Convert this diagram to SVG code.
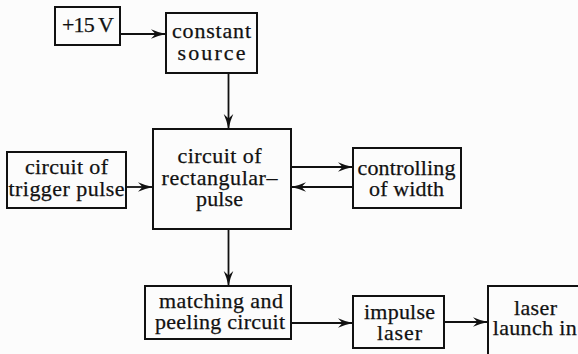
<svg xmlns="http://www.w3.org/2000/svg" width="578" height="354" viewBox="0 0 578 354">
  <style>
    .box { fill: none; stroke: #111; stroke-width: 2; }
    .lbl { font-family: "Liberation Serif", "DejaVu Serif", "Times New Roman", serif; font-size: 22px; fill: #111; stroke: #111; stroke-width: 0.25; text-anchor: middle; }
    .wire { fill: none; stroke: #111; stroke-width: 1.8; marker-end: url(#head); }
  </style>
  <defs>
    <!-- barbed arrowhead, tip at the end of the wire -->
    <marker id="head" markerUnits="userSpaceOnUse" markerWidth="20" markerHeight="12" viewBox="-16 -6 17 12" refX="0" refY="0" orient="auto">
      <path d="M0,0 Q-8,-1.6 -15,-4.8 L-10.5,0 L-15,4.8 Q-8,1.6 0,0 Z" fill="#111"/>
    </marker>
  </defs>
  <rect width="578" height="354" fill="#fcfcfc"/>

  <g id="connectors">
    <line class="wire" x1="120" y1="34" x2="166" y2="34"/>
    <line class="wire" x1="228.5" y1="73" x2="228.5" y2="129"/>
    <line class="wire" x1="126" y1="187" x2="153" y2="187"/>
    <line class="wire" x1="291" y1="167" x2="353" y2="167"/>
    <line class="wire" x1="353" y1="187" x2="291" y2="187"/>
    <line class="wire" x1="228.5" y1="229" x2="228.5" y2="286"/>
    <line class="wire" x1="291" y1="323" x2="353" y2="323"/>
    <line class="wire" x1="444" y1="322" x2="488" y2="322"/>
  </g>

  <g id="supply">
    <rect class="box" x="55" y="7" width="65" height="38"/>
    <text class="lbl" x="88" y="32" textLength="52">+15 V</text>
  </g>

  <g id="constant-source">
    <rect class="box" x="166" y="13" width="91" height="60"/>
    <text class="lbl" x="211.5" y="38" textLength="79">constant</text>
    <text class="lbl" x="211.5" y="60" textLength="68">source</text>
  </g>

  <g id="trigger-pulse">
    <rect class="box" x="7" y="152" width="119" height="56"/>
    <text class="lbl" x="66.5" y="174" textLength="83">circuit of</text>
    <text class="lbl" x="66.5" y="196" textLength="116">trigger pulse</text>
  </g>

  <g id="rectangular-pulse">
    <rect class="box" x="153" y="129" width="138" height="100"/>
    <text class="lbl" x="219.5" y="163" textLength="84">circuit of</text>
    <text class="lbl" x="219.5" y="184.5" textLength="116">rectangular–</text>
    <text class="lbl" x="219.5" y="205.5" textLength="47">pulse</text>
  </g>

  <g id="width-control">
    <rect class="box" x="353" y="148" width="108" height="60"/>
    <text class="lbl" x="406.5" y="175" textLength="98">controlling</text>
    <text class="lbl" x="406.5" y="196" textLength="75">of width</text>
  </g>

  <g id="matching-peeling">
    <rect class="box" x="145" y="286" width="146" height="53"/>
    <text class="lbl" x="221" y="308" textLength="124">matching and</text>
    <text class="lbl" x="220" y="329" textLength="130">peeling circuit</text>
  </g>

  <g id="impulse-laser">
    <rect class="box" x="353" y="296" width="91" height="52"/>
    <text class="lbl" x="399.5" y="319" textLength="71">impulse</text>
    <text class="lbl" x="399.5" y="340" textLength="45">laser</text>
  </g>

  <g id="laser-launch">
    <rect class="box" x="488" y="286" width="100" height="80"/>
    <text class="lbl" x="535.5" y="315" textLength="43">laser</text>
    <text class="lbl" x="534.7" y="335" textLength="84">launch in</text>
  </g>
</svg>
